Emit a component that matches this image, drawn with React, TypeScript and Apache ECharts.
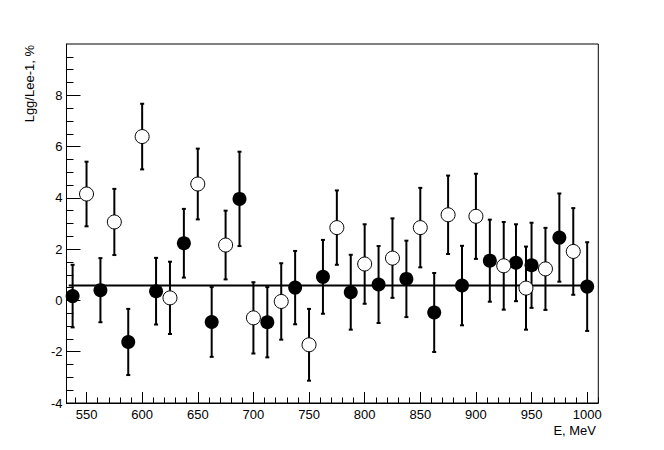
import React, { useEffect, useRef } from "react";
import * as echarts from "echarts";

// Filled markers: energy (MeV), value (%), error (%)
const filledE = [537.5, 562.5, 587.5, 612.5, 637.5, 662.5, 687.5, 712.5, 737.5, 762.5, 787.5, 812.5, 837.5, 862.5, 887.5, 912.5, 936, 950, 975, 1000];
const filledV = [0.17, 0.4, -1.62, 0.36, 2.23, -0.84, 3.96, -0.85, 0.5, 0.92, 0.32, 0.62, 0.84, -0.47, 0.58, 1.55, 1.47, 1.37, 2.45, 0.54];
const filledErr = [1.22, 1.25, 1.29, 1.3, 1.34, 1.36, 1.84, 1.37, 1.43, 1.44, 1.46, 1.5, 1.49, 1.54, 1.55, 1.6, 1.5, 1.66, 1.72, 1.73];

// Open markers
const openE = [550, 575, 600, 625, 650, 675, 700, 725, 750, 775, 800, 825, 850, 875, 900, 925, 945, 962.5, 987.5];
const openV = [4.15, 3.06, 6.39, 0.1, 4.54, 2.16, -0.68, -0.04, -1.73, 2.84, 1.42, 1.65, 2.84, 3.34, 3.28, 1.35, 0.48, 1.23, 1.91];
const openErr = [1.26, 1.29, 1.28, 1.41, 1.38, 1.34, 1.39, 1.49, 1.4, 1.45, 1.55, 1.55, 1.55, 1.53, 1.66, 1.71, 1.62, 1.6, 1.69];

// Fitted constant level
const fitValue = 0.58;
const fitRange = [534, 1003];

// Axes
const xRange = [532, 1010];
const yRange = [-4, 10];
const xMajorTicks = [550, 600, 650, 700, 750, 800, 850, 900, 950, 1000];
const xMinorTicks = [540, 560, 570, 580, 590, 610, 620, 630, 640, 660, 670, 680, 690, 710, 720, 730, 740, 760, 770, 780, 790, 810, 820, 830, 840, 860, 870, 880, 890, 910, 920, 930, 940, 960, 970, 980, 990, 1010];
const yMajorTicks = [-4, -2, 0, 2, 4, 6, 8];
const yMinorTicks = [-3.5, -3, -2.5, -1.5, -1, -0.5, 0.5, 1, 1.5, 2.5, 3, 3.5, 4.5, 5, 5.5, 6.5, 7, 7.5, 8.5, 9, 9.5];

const xTitle = "E, MeV";
const yTitle = "Lgg/Lee-1, %";

const FONT = "'Liberation Sans', Arial, Helvetica, sans-serif";

export default function App() {
  const ref = useRef<HTMLDivElement>(null);

  useEffect(() => {
    if (!ref.current) return;
    const chart = echarts.init(ref.current, undefined, { renderer: "svg" });

    const errData = [
      ...filledE.map((e, i) => [e, filledV[i] - filledErr[i], filledV[i] + filledErr[i]]),
      ...openE.map((e, i) => [e, openV[i] - openErr[i], openV[i] + openErr[i]]),
    ];

    const axisText = { fontSize: 13, color: "#000", fontFamily: FONT, formatter: (v: number) => String(v) };

    const option: any = {
      animation: false,
      backgroundColor: "#fff",
      grid: {
        left: 66.5,
        top: 44,
        right: 65.7,
        bottom: 47,
        show: true,
        borderColor: "#000",
        borderWidth: 1,
        backgroundColor: "transparent",
        containLabel: false,
        outerBoundsMode: "none",
      },
      xAxis: [
        {
          type: "value",
          min: xRange[0],
          max: xRange[1],
          position: "bottom",
          axisLine: { show: true, onZero: false, lineStyle: { color: "#000", width: 1 } },
          axisTick: { show: true, inside: true, length: 11, customValues: xMajorTicks, lineStyle: { color: "#000", width: 1 } },
          axisLabel: { show: true, customValues: xMajorTicks, margin: 5, ...axisText },
          splitLine: { show: false },
        },
        {
          type: "value",
          min: xRange[0],
          max: xRange[1],
          position: "bottom",
          axisLine: { show: false, onZero: false },
          axisTick: { show: true, inside: true, length: 5.5, customValues: xMinorTicks, lineStyle: { color: "#000", width: 1 } },
          axisLabel: { show: false },
          splitLine: { show: false },
        },
      ],
      yAxis: [
        {
          type: "value",
          min: yRange[0],
          max: yRange[1],
          position: "left",
          axisLine: { show: true, onZero: false, lineStyle: { color: "#000", width: 1 } },
          axisTick: { show: true, inside: true, length: 14, customValues: yMajorTicks, lineStyle: { color: "#000", width: 1 } },
          axisLabel: { show: true, customValues: yMajorTicks, margin: 4, ...axisText },
          splitLine: { show: false },
        },
        {
          type: "value",
          min: yRange[0],
          max: yRange[1],
          position: "left",
          offset: 0,
          axisLine: { show: false, onZero: false },
          axisTick: { show: true, inside: true, length: 7, customValues: yMinorTicks, lineStyle: { color: "#000", width: 1 } },
          axisLabel: { show: false },
          splitLine: { show: false },
        },
      ],
      series: [
        {
          type: "line",
          xAxisIndex: 0,
          yAxisIndex: 0,
          data: [
            [fitRange[0], fitValue],
            [fitRange[1], fitValue],
          ],
          symbol: "none",
          lineStyle: { color: "#000", width: 2 },
          z: 1,
          silent: true,
        },
        {
          type: "custom",
          xAxisIndex: 0,
          yAxisIndex: 0,
          data: errData,
          z: 2,
          silent: true,
          renderItem: (params: any, api: any) => {
            const x = api.value(0);
            const lo = api.coord([x, api.value(1)]);
            const hi = api.coord([x, api.value(2)]);
            const cw = 2;
            const st = { stroke: "#000", lineWidth: 2 };
            return {
              type: "group",
              children: [
                { type: "line", shape: { x1: lo[0], y1: lo[1], x2: hi[0], y2: hi[1] }, style: st },
                { type: "line", shape: { x1: lo[0] - cw, y1: lo[1], x2: lo[0] + cw, y2: lo[1] }, style: st },
                { type: "line", shape: { x1: hi[0] - cw, y1: hi[1], x2: hi[0] + cw, y2: hi[1] }, style: st },
              ],
            };
          },
        },
        {
          type: "scatter",
          xAxisIndex: 0,
          yAxisIndex: 0,
          data: filledE.map((e, i) => [e, filledV[i]]),
          symbol: "circle",
          symbolSize: 14,
          itemStyle: { color: "#000", opacity: 1 },
          z: 3,
          silent: true,
        },
        {
          type: "scatter",
          xAxisIndex: 0,
          yAxisIndex: 0,
          data: openE.map((e, i) => [e, openV[i]]),
          symbol: "circle",
          symbolSize: 14,
          itemStyle: { color: "#fff", borderColor: "#000", borderWidth: 1, opacity: 1 },
          z: 3,
          silent: true,
        },
      ],
      graphic: [
        {
          type: "text",
          x: 596,
          y: 430,
          style: { text: xTitle, align: "right", verticalAlign: "middle", fontSize: 13, fill: "#000", fontFamily: FONT },
        },
        {
          type: "text",
          x: 29,
          y: 45,
          rotation: Math.PI / 2,
          style: { text: yTitle, align: "right", verticalAlign: "middle", fontSize: 13, fill: "#000", fontFamily: FONT },
        },
      ],
    };

    chart.setOption(option);
    return () => chart.dispose();
  }, []);

  return (
    <div
      ref={ref}
      style={{ position: "fixed", left: 0, top: 0, width: 664, height: 450, background: "#fff" }}
    />
  );
}
